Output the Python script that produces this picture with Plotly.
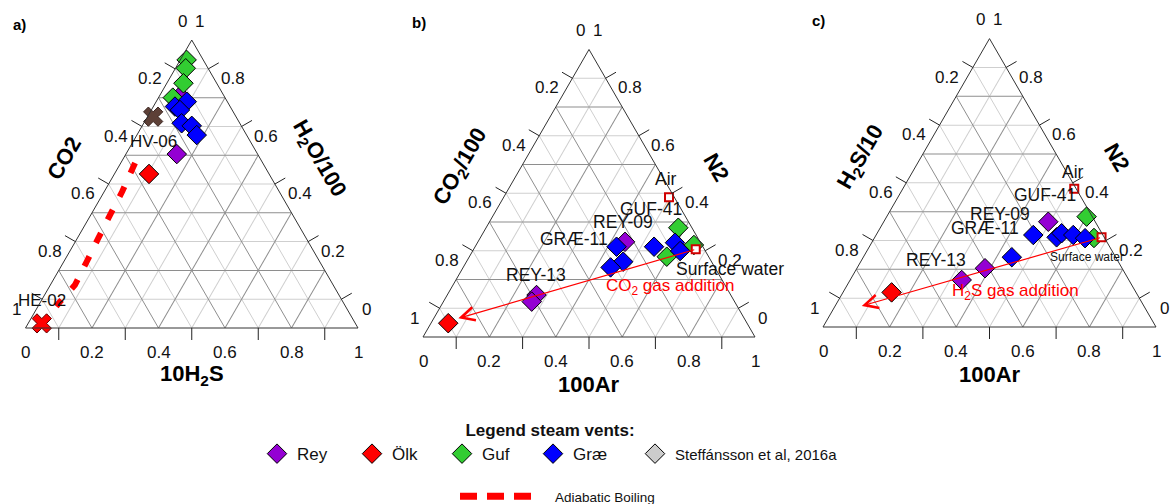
import math
import plotly.graph_objects as go

FIG_W, FIG_H = 1171, 504
S3 = math.sqrt(3) / 2
FONT = "Liberation Sans, Arial, sans-serif"

# ---------------------------------------------------------------------------
# Ternary fractions, ordered (top, bottom-left, bottom-right)
# a) H2O/100 - CO2 - 10H2S
A_REY = [(0.806, 0.132, 0.062), (0.604, 0.243, 0.153)]
A_OLK = [(0.535, 0.361, 0.104)]
A_GUF = [(0.931, 0.050, 0.019), (0.902, 0.067, 0.031), (0.850, 0.100, 0.050),
         (0.800, 0.157, 0.043)]
A_GRAE = [(0.786, 0.122, 0.092), (0.769, 0.166, 0.065), (0.757, 0.157, 0.086),
          (0.711, 0.175, 0.114), (0.702, 0.149, 0.149), (0.670, 0.150, 0.180)]
A_HV06 = [(0.734, 0.249, 0.017)]
A_HE02 = [(0.016, 0.943, 0.041)]
A_BOILING = [(0.573, 0.384, 0.043), (0.473, 0.473, 0.054), (0.392, 0.550, 0.058),
             (0.312, 0.625, 0.063), (0.230, 0.701, 0.069), (0.149, 0.777, 0.074),
             (0.091, 0.851, 0.058), (0.075, 0.870, 0.055)]

# b) N2 - CO2/100 - 100Ar
B_REY = [(0.331, 0.226, 0.443), (0.146, 0.585, 0.269), (0.123, 0.611, 0.266)]
B_OLK = [(0.048, 0.900, 0.052)]
B_GUF = [(0.380, 0.041, 0.579), (0.320, 0.024, 0.656), (0.279, 0.126, 0.594)]
B_GRAE = [(0.314, 0.147, 0.539), (0.328, 0.077, 0.595), (0.299, 0.076, 0.625),
          (0.314, 0.260, 0.426), (0.262, 0.266, 0.472), (0.242, 0.314, 0.444)]
B_AIR = [(0.486, 0.016, 0.498)]
B_SW = [(0.305, 0.026, 0.669)]
B_GAS_END = (0.065, 0.861, 0.074)

# c) N2 - H2S/10 - 100Ar
C_REY = [(0.365, 0.141, 0.494), (0.204, 0.412, 0.385), (0.163, 0.502, 0.335)]
C_OLK = [(0.120, 0.734, 0.146)]
C_GUF = [(0.383, 0.017, 0.601), (0.309, 0.032, 0.660)]
C_GRAE = [(0.319, 0.209, 0.472), (0.311, 0.143, 0.546), (0.325, 0.121, 0.554),
          (0.319, 0.089, 0.592), (0.308, 0.059, 0.633), (0.242, 0.312, 0.446)]
C_AIR = [(0.479, 0.006, 0.515)]
C_SW = [(0.311, 0.008, 0.681)]
C_GAS_END = (0.073, 0.847, 0.080)

TICK_LABELS = [0, 0.2, 0.4, 0.6, 0.8, 1]
MINOR_GRID = [0.1, 0.3, 0.5, 0.7, 0.9]   # light grid lines, also tick mark positions
MAJOR_GRID = [0.2, 0.4, 0.6, 0.8]        # darker grid lines

# ---------------------------------------------------------------------------
# Panel placement in pixels: left vertex x, base line y, side length
PANELS = {
    "a": dict(x0=25.5, base=328, side=332.5, sub=("ternary", "ternary2"),
              titles=("<b>CO2</b>", "<b>H<sub>2</sub>O/100</b>", "<b>10H<sub>2</sub>S</b>")),
    "b": dict(x0=423, base=337, side=332, sub=("ternary3", "ternary4"),
              titles=("<b>CO<sub>2</sub>/100</b>", "<b>N2</b>", "<b>100Ar</b>")),
    "c": dict(x0=823, base=327, side=333, sub=("ternary5", "ternary6"),
              titles=("<b>H<sub>2</sub>S/10</b>", "<b>N2</b>", "<b>100Ar</b>")),
}
TICK_LEN = 12


def domain(p):
    g = PANELS[p]
    h = g["side"] * S3
    return dict(x=[g["x0"] / FIG_W, (g["x0"] + g["side"]) / FIG_W],
                y=[1 - g["base"] / FIG_H, 1 - (g["base"] - h) / FIG_H])


def to_px(p, pt):
    g = PANELS[p]
    a, b, c = pt
    s = a + b + c
    a, c = a / s, c / s
    return g["x0"] + (c + a / 2) * g["side"], g["base"] - a * g["side"] * S3


def paper(px, py):
    return px / FIG_W, 1 - py / FIG_H


def text_at(px, py, text, size, color="#111", angle=0):
    x, y = paper(px, py)
    return dict(x=x, y=y, xref="paper", yref="paper", text=text, showarrow=False,
                xanchor="center", yanchor="middle", textangle=angle,
                font=dict(size=size, color=color, family=FONT))


def seg(px0, py0, px1, py1, color="#222", width=1):
    x0, y0 = paper(px0, py0)
    x1, y1 = paper(px1, py1)
    return dict(type="line", xref="paper", yref="paper", x0=x0, y0=y0, x1=x1, y1=y1,
                line=dict(color=color, width=width))


def fmt(v):
    return "0" if v == 0 else ("1" if v == 1 else f"{v:.1f}")


fig = go.Figure()

DIAMOND = dict(symbol="diamond", size=15, line=dict(color="black", width=1))
COLORS = {"Rey": "#9400D3", "Ölk": "#FF0000", "Guf": "#32CD32", "Græ": "#0000FF"}
# legend entry widths (px of text slot) for the vent groups
ENTRY_W = {"Rey": 50, "Ölk": 45, "Guf": 46, "Græ": 57}


def tern(pts, sub, **kw):
    return go.Scatterternary(a=[p[0] for p in pts], b=[p[1] for p in pts],
                             c=[p[2] for p in pts], subplot=sub, cliponaxis=False,
                             hoverinfo="skip", **kw)


# placeholder traces so the background (light-grid) ternaries are drawn
for p, g in PANELS.items():
    fig.add_trace(tern([(1, 0, 0)], g["sub"][0], mode="markers",
                       marker=dict(opacity=0), showlegend=False))

# adiabatic boiling curve in a)
fig.add_trace(tern(A_BOILING, "ternary2", mode="lines", name="Adiabatic Boiling",
                   line=dict(color="#FF0000", width=6, dash="11px,15px"),
                   showlegend=False))

panel_sets = {
    "a": [("Rey", A_REY), ("Ölk", A_OLK), ("Guf", A_GUF), ("Græ", A_GRAE)],
    "b": [("Rey", B_REY), ("Ölk", B_OLK), ("Guf", B_GUF), ("Græ", B_GRAE)],
    "c": [("Rey", C_REY), ("Ölk", C_OLK), ("Guf", C_GUF), ("Græ", C_GRAE)],
}
rank = {"Rey": 1, "Ölk": 2, "Guf": 3, "Græ": 4}
for p, sets in panel_sets.items():
    for name, pts in sets:
        fig.add_trace(tern(pts, PANELS[p]["sub"][1], mode="markers", name=name,
                           marker=dict(color=COLORS[name], **DIAMOND),
                           legendgroup=name, legendrank=rank[name],
                           legendwidth=ENTRY_W[name], showlegend=(p == "a")))

# literature data: legend entry only, no samples plotted here
fig.add_trace(go.Scatterternary(
    a=[None], b=[None], c=[None], subplot="ternary2", mode="markers",
    name="<span style='font-size:15px'>Steffánsson et al, 2016a</span>",
    marker=dict(color="#CCCCCC", **DIAMOND), legendrank=5, hoverinfo="skip"))

# legend key for the boiling curve (longer dashes than in the panel)
fig.add_trace(go.Scatterternary(
    a=[None], b=[None], c=[None], subplot="ternary2", mode="lines",
    name="Adiabatic Boiling", legend="legend2", hoverinfo="skip",
    line=dict(color="#FF0000", width=7, dash="17px,10px,17px,10px,17px,60px")))

# reference points in a)
fig.add_trace(tern(A_HV06, "ternary2", mode="markers", showlegend=False,
                   marker=dict(symbol="x", size=17, color="#5D4037",
                               line=dict(color="#3A2420", width=1))))
fig.add_trace(tern(A_HE02, "ternary2", mode="markers", showlegend=False,
                   marker=dict(symbol="x", size=17, color="#FF0000",
                               line=dict(color="#600000", width=1))))

# air and air-saturated surface water in b) and c)
AIR_MARK = dict(symbol="square", size=8, color="white", line=dict(color="#D00000", width=2))
for p, pts in (("b", B_AIR + B_SW), ("c", C_AIR + C_SW)):
    fig.add_trace(tern(pts, PANELS[p]["sub"][1], mode="markers", showlegend=False,
                       marker=AIR_MARK))

ann, shapes = [], []
layout_tern = {}
for p, g in PANELS.items():
    light, top = g["sub"]
    base_axis = dict(showticklabels=False, title=dict(text=""), min=0, ticks="")
    layout_tern[light] = dict(
        domain=domain(p), bgcolor="white", sum=1,
        **{ax: dict(base_axis, tickvals=MINOR_GRID, gridcolor="#CFCFCF",
                    gridwidth=1, showline=False)
           for ax in ("aaxis", "baxis", "caxis")})
    layout_tern[top] = dict(
        domain=domain(p), bgcolor="rgba(0,0,0,0)", sum=1,
        **{ax: dict(base_axis, tickvals=MAJOR_GRID, gridcolor="#8E8E8E",
                    gridwidth=1, showline=True, linecolor="#333", linewidth=1)
           for ax in ("aaxis", "baxis", "caxis")})

    s, x0, base = g["side"], g["x0"], g["base"]
    h = s * S3

    # tick marks, perpendicular to each edge, pointing outward
    for v in MINOR_GRID:
        ex, ey = x0 + v * s / 2, base - v * h
        shapes.append(seg(ex, ey, ex - TICK_LEN * S3, ey - TICK_LEN / 2))
        ex, ey = x0 + s - v * s / 2, base - v * h
        shapes.append(seg(ex, ey, ex + TICK_LEN * S3, ey - TICK_LEN / 2))
        ex, ey = x0 + v * s, base
        shapes.append(seg(ex, ey, ex, ey + TICK_LEN))

    # edge tick labels
    for v in TICK_LABELS:
        a = 1 - v
        ann.append(text_at(x0 + a * s / 2 - 9, base - a * h - 19, fmt(v), 17))
        ann.append(text_at(x0 + s - v * s / 2 + 8, base - v * h - 19, fmt(v), 17))
        ann.append(text_at(x0 + v * s, base + 24, fmt(v), 17))

    # axis titles
    lt, rt, bt = g["titles"]
    mx_l, my = x0 + s / 4, base - h / 2
    mx_r = x0 + 3 * s / 4
    ann.append(text_at(mx_l - 52 * S3, my - 52 * 0.5, lt, 22, color="black", angle=-60))
    ann.append(text_at(mx_r + 51 * S3, my - 51 * 0.5, rt, 22, color="black", angle=60))
    ann.append(text_at(x0 + s / 2, base + 47, bt, 22, color="black"))

# panel letters
for txt, px, py in (("<b>a)</b>", 19, 24), ("<b>b)</b>", 419, 23), ("<b>c)</b>", 818, 21)):
    ann.append(text_at(px, py, txt, 15, color="black"))

# sample labels, offset in pixels from their points
LABELS = [
    ("a", A_HV06[0], "HV-06", 0, 25, 17),
    ("a", A_HE02[0], "HE-02", 0, -23, 17),
    ("b", B_AIR[0], "Air", -3, -18, 17.5),
    ("b", B_GUF[0], "GUF-41", -27, -19, 17.5),
    ("b", B_REY[0], "REY-09", -2, -20, 17.5),
    ("b", B_GRAE[3], "GRÆ-11", -43, -8, 17.5),
    ("b", B_REY[1], "REY-13", -1, -20, 17.5),
    ("b", B_SW[0], "Surface water", 34, 20, 17.5),
    ("c", C_AIR[0], "Air", -1.5, -17, 17.5),
    ("c", C_GUF[0], "GUF-41", -42, -22, 17.5),
    ("c", C_REY[0], "REY-09", -48, -8, 17.5),
    ("c", C_GRAE[0], "GRÆ-11", -48, -7, 17.5),
    ("c", C_REY[2], "REY-13", -26, -20, 17.5),
    ("c", C_SW[0], "Surface water", -15, 20, 12),
]
for p, pt, txt, dx, dy, size in LABELS:
    px, py = to_px(p, pt)
    ann.append(text_at(px + dx, py + dy, txt, size))

# gas addition arrows from surface water
for p, start, end, txt, dx, dy in (
        ("b", B_SW[0], B_GAS_END, "CO<sub>2</sub> gas addition", -25, 38),
        ("c", C_SW[0], C_GAS_END, "H<sub>2</sub>S gas addition", -86, 55)):
    tx, ty = to_px(p, start)
    hx, hy = to_px(p, end)
    x, y = paper(hx, hy)
    ann.append(dict(x=x, y=y, xref="paper", yref="paper", ax=tx - hx, ay=ty - hy,
                    axref="pixel", ayref="pixel", text="", showarrow=True,
                    arrowhead=5, arrowsize=2.2, arrowwidth=1.2, arrowcolor="#FF0000",
                    standoff=0, startstandoff=0))
    ann.append(text_at(tx + dx, ty + dy, txt, 17, color="#FF0000"))

fig.update_layout(
    width=FIG_W, height=FIG_H,
    margin=dict(l=0, r=0, t=0, b=0, autoexpand=False),
    paper_bgcolor="white", font=dict(family=FONT, color="#111"),
    annotations=ann, shapes=shapes, **layout_tern,
    legend=dict(orientation="h", x=257 / FIG_W, xanchor="left",
                y=1 - 414 / FIG_H, yanchor="top",
                title=dict(text="<b>Legend steam vents:</b>", side="top center",
                           font=dict(size=17)),
                font=dict(size=17, family=FONT, color="#111"),
                bgcolor="rgba(0,0,0,0)"),
    legend2=dict(orientation="h", x=455 / FIG_W, xanchor="left",
                 y=1 - 481 / FIG_H, yanchor="top", itemwidth=90,
                 font=dict(size=13.5, family=FONT, color="#111"),
                 bgcolor="rgba(0,0,0,0)"),
)

fig.write_html("out.html")
